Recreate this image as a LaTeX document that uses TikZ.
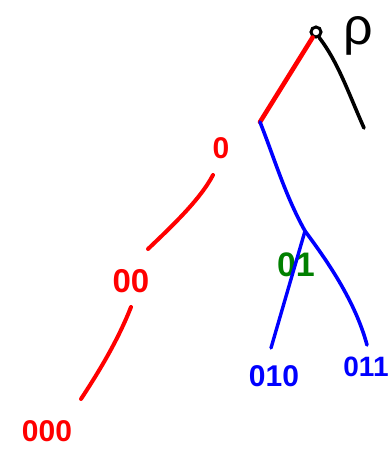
\documentclass[tikz,border=0pt]{standalone}
\usepackage{fontspec}
\setmainfont{Liberation Sans}
\definecolor{pred}{RGB}{255,0,0}
\definecolor{pblue}{RGB}{0,0,255}
\definecolor{pgreen}{RGB}{0,128,0}
\begin{document}
\begin{tikzpicture}[x=1pt,y=-1pt,
  edge/.style={line width=4pt,line cap=round},
  lbl/.style={inner sep=0pt,font=\bfseries\fontsize{30}{30}\selectfont},
  rootdot/.style={circle,draw=black,line width=3pt,minimum size=10pt,inner sep=0pt}]
\useasboundingbox (0,0) rectangle (390,449);
% root and labels
\node[rootdot] (root) at (316,32) {};
\node[inner sep=0pt,font=\fontsize{52}{52}\selectfont] (rho) at (358,36) {ρ};
\node[lbl,text=pred] (l0) at (221,148) {0};
\node[lbl,text=pred,font=\bfseries\fontsize{33}{33}\selectfont] (l00) at (131,281) {00};
\node[lbl,text=pred] (l000) at (47,431) {000};
\node[lbl,text=pgreen,font=\bfseries\fontsize{34}{34}\selectfont] (l01) at (296,265) {01};
\node[lbl,text=pblue] (l010) at (274,376) {010};
\node[lbl,text=pblue,font=\bfseries\fontsize{28}{28}\selectfont] (l011) at (366,367) {011};
% branch points and free ends
\coordinate (b0) at (260,122);
\coordinate (b01) at (305,231);
\coordinate (pe) at (364,128);
\coordinate (e0a) at (213,175);
\coordinate (e0b) at (148,249);
\coordinate (e00a) at (131,307);
\coordinate (e00b) at (81,399);
\coordinate (e010) at (271,348);
\coordinate (e011) at (367,345);
% connectors
\draw[edge,pred,line width=4.6pt] (root) -- (b0);
\draw[edge,black,line width=3.6pt] (root.-60) .. controls (338,62) and (348,92) .. (pe);
\draw[edge,pblue,line width=3.6pt] (b0) .. controls (275,160) and (285,195) .. (b01);
\draw[edge,pblue,line width=3.4pt] (b01) -- (e010);
\draw[edge,pblue,line width=3.6pt] (b01) .. controls (325,258) and (355,300) .. (e011);
\draw[edge,pred] (e0a) .. controls (200,200) and (170,228) .. (e0b);
\draw[edge,pred] (e00a) .. controls (118,340) and (100,370) .. (e00b);
\end{tikzpicture}
\end{document}
